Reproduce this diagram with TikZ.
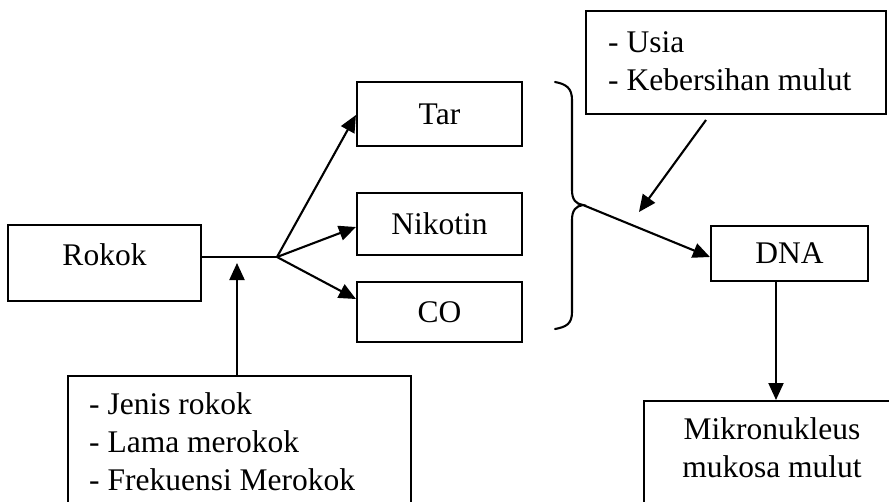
\documentclass[tikz,border=0pt]{standalone}
\usepackage{fontspec}
\setmainfont{Liberation Serif}
\usetikzlibrary{arrows.meta,calc}
\begin{document}
\begin{tikzpicture}[x=1pt,y=-1pt,
  box/.style={draw,line width=2.1pt,rectangle,inner sep=0pt,font=\fontsize{31.5}{38}\selectfont},
  txt/.style={inner sep=0pt,font=\fontsize{31.5}{38}\selectfont},
  conn/.style={line width=2.1pt},
  arr/.style={line width=2.1pt,-{Triangle[length=17pt,width=15pt]}}]
\clip (0,0) rectangle (889,501);
\fill[white] (0,0) rectangle (889,501);
% boxes
\node[box,minimum width=193,minimum height=76,text height=21.5pt,text depth=17.5pt] (rokok) at (104.5,263) {Rokok};
\node[box,minimum width=165,minimum height=64] (tar) at (439.5,114) {Tar};
\node[box,minimum width=165,minimum height=62] (nik) at (439.5,224) {Nikotin};
\node[box,minimum width=165,minimum height=60] (co) at (439.5,312) {CO};
\node[box,minimum width=157,minimum height=55] (dna) at (789.5,253.5) {DNA};
\node[box,minimum width=300,minimum height=103] (usia) at (736,62.5) {};
\node[txt,anchor=base west,align=left] (usiatxt) at (608,90) {- Usia\\- Kebersihan mulut};
\node[box,minimum width=343,minimum height=160,anchor=north west] (fak) at (67,375) {};
\node[txt,anchor=base west,align=left] (faktxt) at (89,490) {- Jenis rokok\\- Lama merokok\\- Frekuensi Merokok};
\node[box,minimum width=280,minimum height=160,anchor=north west] (mik) at (643,400) {};
\node[txt,anchor=base,align=center] (miktxt) at (772,477) {Mikronukleus\\mukosa mulut};
% junction and connectors
\coordinate (j) at (277,257);
\draw[conn] (rokok.east |- j) -- (j);
\draw[arr] (j) -- ($(tar.west)+(0,1)$);
\draw[arr] (j) -- ($(nik.west)+(0,3)$);
\draw[arr] (j) -- ($(co.west)+(0,-13)$);
\coordinate (fakup) at (237,263);
\draw[arr] (fak.north -| fakup) -- (fakup);
% brace
\coordinate (tip) at (583,205);
\draw[conn,line cap=round] (555,82) .. controls (566,84) and (572,88) .. (572,100)
  -- (572,190) .. controls (572,200) and (576,204) .. (tip)
  .. controls (576,206) and (572,210) .. (572,220)
  -- (572,312) .. controls (572,324) and (566,327) .. (555,329);
\draw[arr] (tip) -- ($(dna.west)+(0,3.5)$);
% Usia arrow
\coordinate (uend) at (639,212);
\draw[arr] (706,120) -- (uend);
% DNA to Mikronukleus
\coordinate (dx) at (776,0);
\draw[arr] (dna.south -| dx) -- (mik.north -| dx);
\end{tikzpicture}
\end{document}
